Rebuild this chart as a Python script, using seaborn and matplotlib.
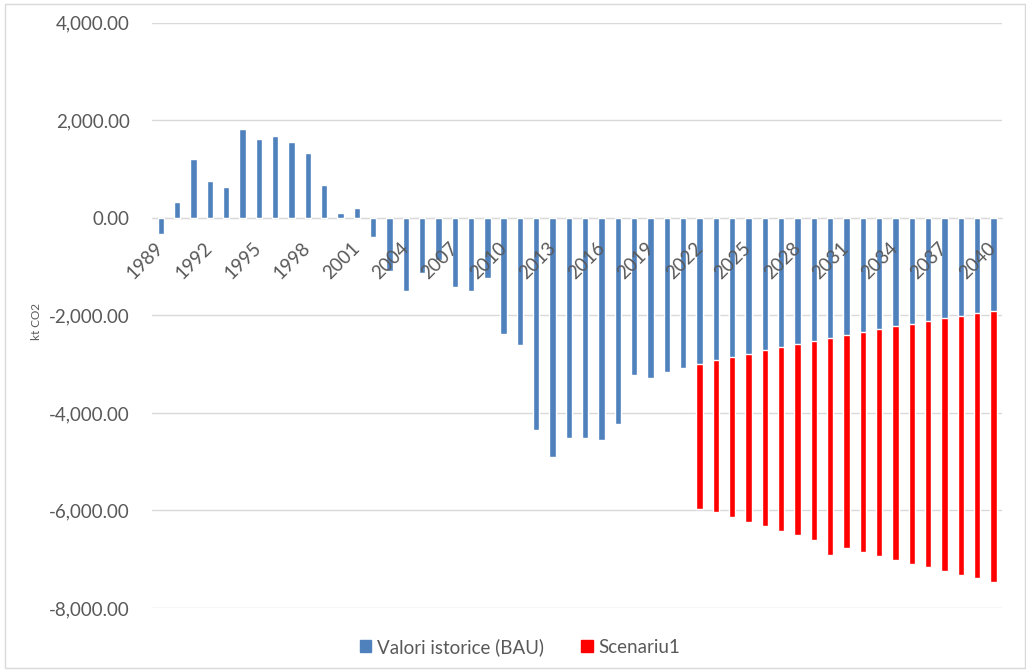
import pandas as pd
import matplotlib
matplotlib.use('Agg')
import matplotlib.pyplot as plt
from matplotlib.patches import Patch, Rectangle
from matplotlib.ticker import FuncFormatter
import seaborn as sns

sns.set_style("white")
plt.rcParams['font.family'] = ['Lato', 'DejaVu Sans']

# values (kt CO2)
years = list(range(1989, 2041))
bau = [-340, 330, 1215, 760, 640, 1830, 1620, 1675, 1560, 1325,
       680, 105, 205, -385, -1085, -1500, -1130, -870, -1415, -1500,
       -1230, -2390, -2605, -4360, -4910, -4510, -4510, -4560, -4225, -3230,
       -3280, -3155, -3075, -2995, -2920, -2845, -2785, -2710, -2645, -2585,
       -2520, -2460, -2405, -2335, -2275, -2210, -2170, -2110, -2060, -2010,
       -1955, -1910]
scen_years = list(range(2022, 2041))
scenariu1 = [-5980, -6030, -6140, -6230, -6320, -6415, -6505, -6605, -6920, -6770,
             -6845, -6935, -7020, -7095, -7170, -7245, -7320, -7395, -7475]

BLUE = '#4F81BD'
RED = '#FF0000'
GREY_TXT = '#595959'
GRID = '#D9D9D9'

order = [str(y) for y in years]
df_bau = pd.DataFrame({'an': [str(y) for y in years], 'val': bau})
df_sc = pd.DataFrame({'an': [str(y) for y in scen_years], 'val': scenariu1})

fig = plt.figure(figsize=(10.26, 6.71), dpi=100)
ax = fig.add_axes([0.148, 0.094, 0.829, 0.872])

# scenario drawn first, historical bars overlap on top
sns.barplot(data=df_sc, x='an', y='val', order=order, color=RED, width=0.39,
            saturation=1, ax=ax, zorder=2)
sns.barplot(data=df_bau, x='an', y='val', order=order, color=BLUE, width=0.39,
            saturation=1, ax=ax, zorder=3)

ax.set_ylim(-8000, 4000)
yt = list(range(-8000, 4001, 2000))
ax.set_yticks(yt)
ax.yaxis.set_major_formatter(FuncFormatter(lambda v, p: f'{v:,.2f}'))
ax.set_xlim(-0.55, len(years) - 0.45)
ax.set_xticks(range(0, len(years), 3))
ax.set_xticklabels(order[::3])

# gridlines behind the bars, tick labels in front of them
for v in yt:
    ax.axhline(v, color=GRID, lw=1, zorder=0.5)
ax.xaxis.set_zorder(5)
for s in ['top', 'right', 'left']:
    ax.spines[s].set_visible(False)
ax.spines['bottom'].set_position(('data', 0))
ax.spines['bottom'].set_color(GRID)
ax.spines['bottom'].set_zorder(0.6)

ax.tick_params(axis='y', length=0, pad=16, labelsize=13.5, labelcolor=GREY_TXT)
ax.tick_params(axis='x', length=0, pad=20, labelsize=13.5, labelcolor=GREY_TXT)
plt.setp(ax.get_xticklabels(), rotation=45, ha='right', va='center',
         rotation_mode='anchor')
ax.set_xlabel('')
ax.set_ylabel('')
fig.text(0.036, 1 - 322 / 671, 'kt CO2', rotation=90, ha='center', va='center',
         fontsize=8.5, color=GREY_TXT)

handles = [Patch(color=BLUE, label='Valori istorice (BAU)'),
           Patch(color=RED, label='Scenariu1')]
fig.legend(handles=handles, loc='center', bbox_to_anchor=(0.507, 1 - 647 / 671),
           ncol=2, frameon=False, fontsize=13.5, handlelength=0.6, handleheight=0.6,
           handletextpad=0.3, columnspacing=2.0, labelcolor=GREY_TXT)

fig.patches.append(Rectangle((0.0045, 0.004), 0.9945, 0.99, transform=fig.transFigure,
                             fill=False, edgecolor=GRID, lw=1))

fig.savefig('out.png', dpi=100)
